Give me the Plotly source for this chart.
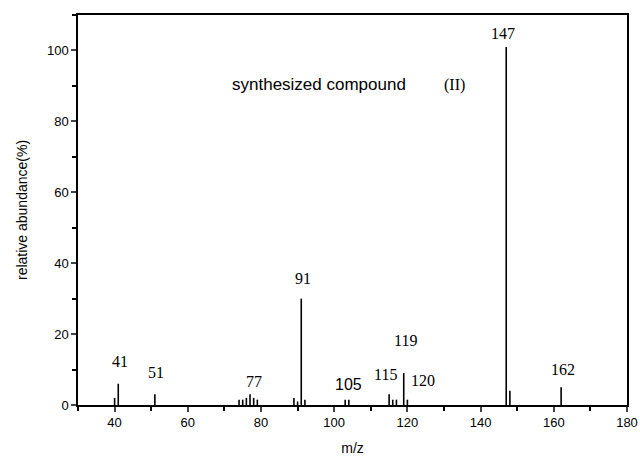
import plotly.graph_objects as go

mz = [40, 41, 51, 74, 75, 76, 77, 78, 79, 89, 90, 91, 92, 103, 104,
      115, 116, 117, 119, 120, 147, 148, 162]
abundance = [2, 6, 3, 1.5, 1.5, 2, 3, 2, 1.5, 2, 1, 30, 1.5, 1.5, 1.5,
             3, 1.5, 1.5, 9, 1.5, 101, 4, 5]

label_text = ["41", "51", "77", "115", "119", "120", "162", "147", "91"]
label_x = [41.4, 51.4, 78.2, 114.1, 119.4, 124.2, 162.5, 146.2, 91.6]
label_y = [12.4, 9.2, 6.6, 8.7, 18.3, 6.8, 10.0, 104.9, 35.7]

xs, ys = [], []
for m, a in zip(mz, abundance):
    xs += [m, m, None]
    ys += [0, a, None]

fig = go.Figure()
fig.add_trace(go.Scatter(x=xs, y=ys, mode="lines",
                         line=dict(color="black", width=1.6),
                         hoverinfo="skip", showlegend=False))

serif = "Liberation Serif, Times New Roman, serif"
sans = "Liberation Sans, Arial, sans-serif"

for t, x, y in zip(label_text, label_x, label_y):
    fig.add_annotation(x=x, y=y, text=t, showarrow=False,
                       font=dict(family=serif, size=16, color="black"))

fig.add_annotation(x=104, y=5.8, text="105", showarrow=False,
                   font=dict(family=sans, size=16, color="black"))
fig.add_annotation(x=71.6, y=90.3, text="synthesized compound",
                   showarrow=False, xanchor="left",
                   font=dict(family=sans, size=17, color="black"))
fig.add_annotation(x=136.3, y=90.3, text="(II)",
                   showarrow=False, xanchor="right",
                   font=dict(family=serif, size=16, color="black"))

fig.update_layout(
    width=640, height=459,
    margin=dict(l=78, r=13, t=15, b=54),
    plot_bgcolor="white", paper_bgcolor="white",
    font=dict(family=sans, size=13, color="black"),
    xaxis=dict(range=[30, 180], dtick=20, tick0=40, ticks="outside",
               ticklen=5, tickwidth=1.5, showline=True, linecolor="black",
               linewidth=1.5, mirror=True, showgrid=False, zeroline=False,
               automargin=False,
               minor=dict(dtick=10, tick0=30, ticks="outside", ticklen=4,
                          tickwidth=1.5, tickcolor="black", showgrid=False),
               title=dict(text="m/z", font=dict(size=14), standoff=14),
               tickfont=dict(size=13)),
    yaxis=dict(range=[0, 110], dtick=20, ticks="outside", ticklen=5,
               tickwidth=1.5, showline=True, linecolor="black", linewidth=1.5,
               mirror=True, showgrid=False, zeroline=False,
               automargin=False,
               minor=dict(dtick=10, ticks="outside", ticklen=4,
                          tickwidth=1.5, tickcolor="black", showgrid=False),
               title=dict(text="relative abundance(%)", font=dict(size=14),
                          standoff=16),
               tickfont=dict(size=13)),
)

fig.write_html("out.html")
